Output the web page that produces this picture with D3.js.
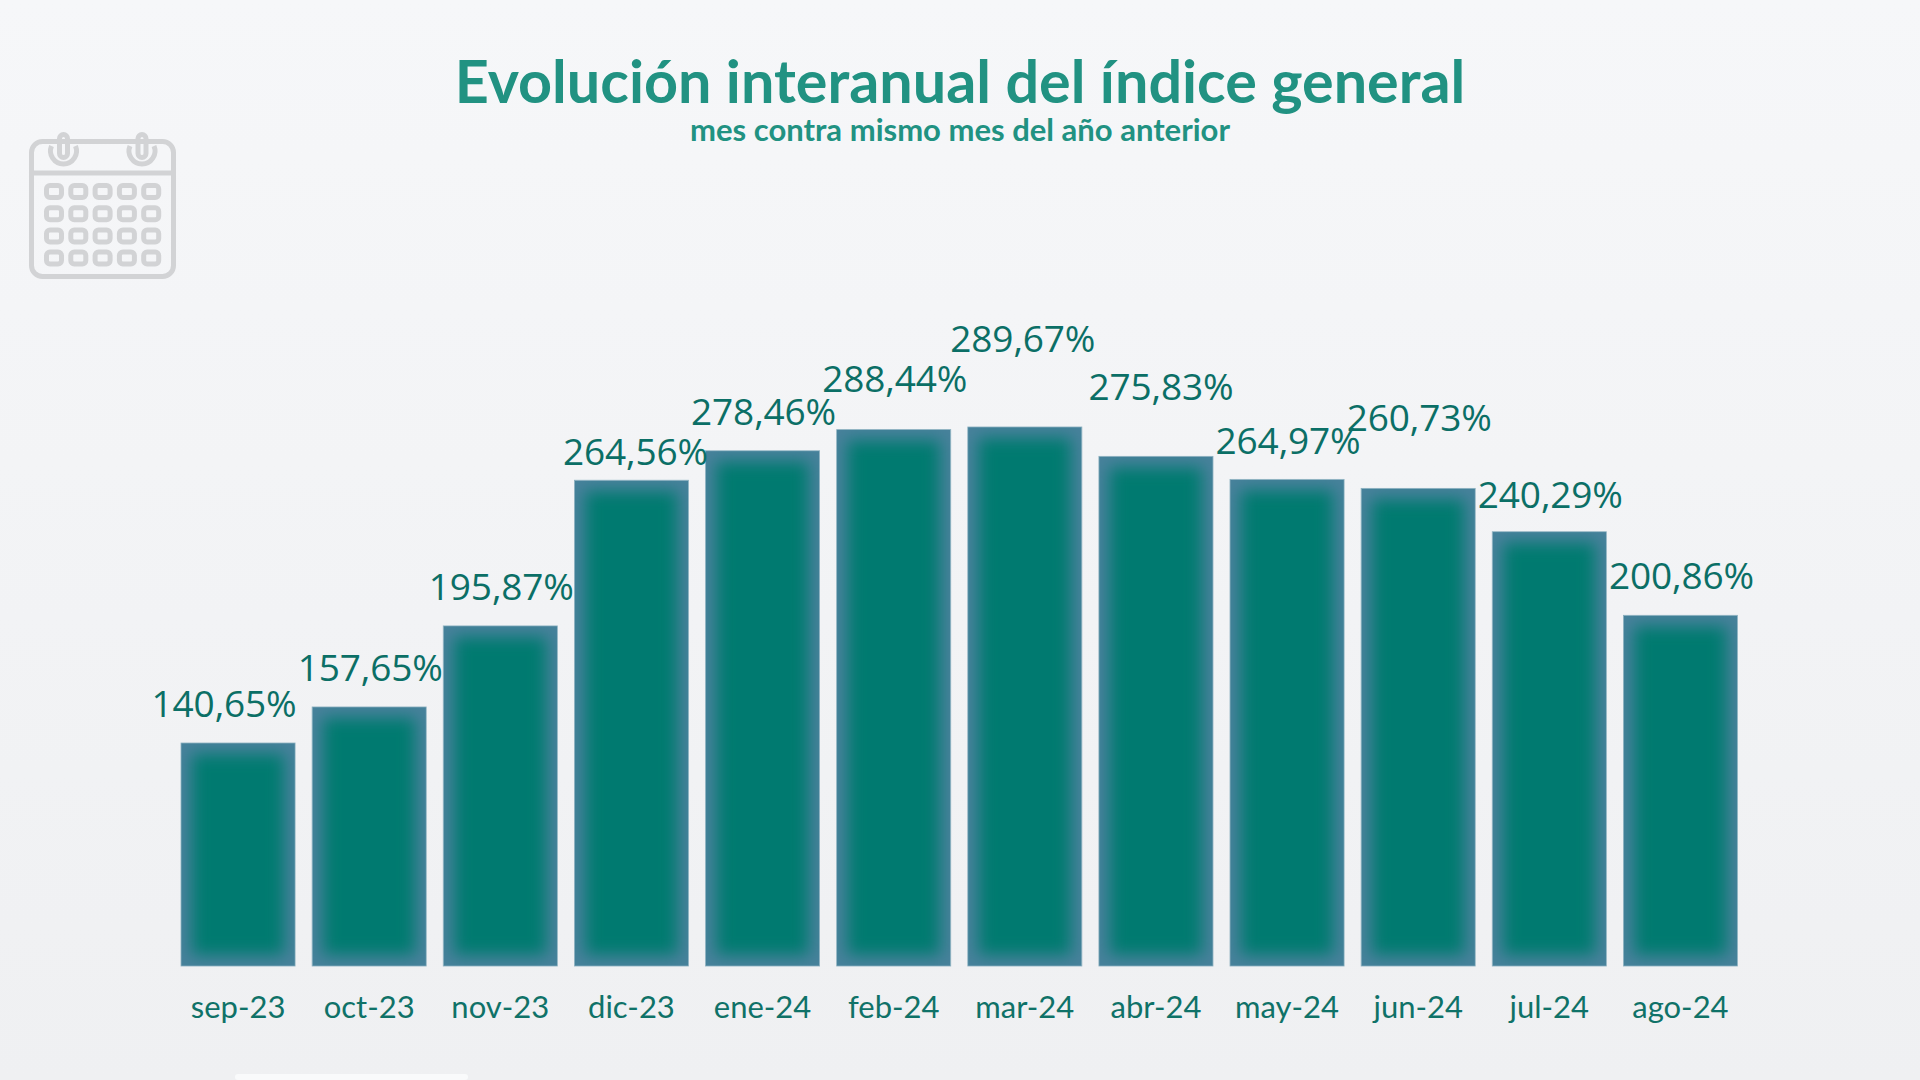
<!DOCTYPE html>
<html><head><meta charset="utf-8">
<script src="https://cdn.jsdelivr.net/npm/d3@7/dist/d3.min.js"></script>
<style>html,body{margin:0;padding:0;width:1920px;height:1080px;overflow:hidden;background:#f3f4f6}</style>
</head><body><svg id="c" width="1920" height="1080"></svg>
<script>
const categories=["sep-23","oct-23","nov-23","dic-23","ene-24","feb-24","mar-24","abr-24","may-24","jun-24","jul-24","ago-24"];
const values=[140.65,157.65,195.87,264.56,278.46,288.44,289.67,275.83,264.97,260.73,240.29,200.86];
const valueLabels=["140,65%","157,65%","195,87%","264,56%","278,46%","288,44%","289,67%","275,83%","264,97%","260,73%","240,29%","200,86%"];
const labelShiftX=[-14,1,1,4,1,1,-2,5,1,1,1,1];
const labelGap=[40,40,40,29,40,52,89,70,39,71,38,40];
const titleText="Evolución interanual del índice general";
const subtitleText="mes contra mismo mes del año anterior";

const svg=d3.select("#c");
const defs=svg.append("defs");
const bg=defs.append("linearGradient").attr("id","bg").attr("x1",0).attr("y1",0).attr("x2",0).attr("y2",1);
bg.append("stop").attr("offset",0).attr("stop-color","#f6f7f9");
bg.append("stop").attr("offset",1).attr("stop-color","#eff0f2");
defs.append("filter").attr("id","soft").attr("x","-30%").attr("y","-30%").attr("width","160%").attr("height","160%")
  .append("feGaussianBlur").attr("stdDeviation",8);
svg.append("rect").attr("width",1920).attr("height",1080).attr("fill","url(#bg)");
svg.append("rect").attr("x",235).attr("y",1074).attr("width",233).attr("height",6).attr("rx",3).attr("fill","#f9fafb");

svg.append("text").attr("x",960).attr("y",103).attr("text-anchor","middle")
  .attr("font-family","Lato").attr("font-weight",700).attr("font-size",59.3).attr("fill","#219282").text(titleText);
svg.append("text").attr("x",960).attr("y",140.5).attr("text-anchor","middle")
  .attr("font-family","Lato").attr("font-weight",700).attr("font-size",30).attr("fill","#219282").attr("textLength",540).attr("lengthAdjust","spacingAndGlyphs").text(subtitleText);

const x=d3.scaleBand().domain(categories).range([172.5,1746]).paddingInner(0.13).paddingOuter(0.065);
const y=d3.scaleLinear().domain([35.5,289.67]).range([966,427]);
const bars=svg.append("g");
categories.forEach((c,i)=>{
  const bx=x(c),bw=x.bandwidth(),by=y(values[i]),bh=966-by;
  const id="clip"+i;
  defs.append("clipPath").attr("id",id).append("rect").attr("x",bx).attr("y",by).attr("width",bw).attr("height",bh);
  const g=bars.append("g").attr("clip-path",`url(#${id})`);
  g.append("rect").attr("x",bx).attr("y",by).attr("width",bw).attr("height",bh).attr("fill","#47819b");
  g.append("rect").attr("x",bx+11).attr("y",by+11).attr("width",bw-22).attr("height",bh-22).attr("fill","#007a70").attr("filter","url(#soft)");
  bars.append("rect").attr("x",bx).attr("y",by).attr("width",bw).attr("height",bh).attr("fill","none").attr("stroke","#86adbd").attr("stroke-width",0.8);
  svg.append("text").attr("x",bx+bw/2+labelShiftX[i]).attr("y",by-labelGap[i]+14)
    .attr("text-anchor","middle").attr("font-family","'Open Sans'").attr("font-size",37).attr("letter-spacing",-0.15).attr("fill","#0b6f66").text(valueLabels[i]);
});
const ax=svg.append("g").attr("transform","translate(0,966)").call(d3.axisBottom(x).tickSize(0).tickPadding(30));
ax.select(".domain").remove();
ax.selectAll("text").attr("font-family","Lato").attr("font-size",31).attr("fill","#0f7268");

// calendar icon
const ic=svg.append("g").attr("fill","none").attr("stroke","#d2d3d5");
ic.append("rect").attr("x",31.5).attr("y",141.5).attr("width",142).attr("height",135).attr("rx",11).attr("stroke-width",5);
ic.append("line").attr("x1",32).attr("x2",173).attr("y1",173).attr("y2",173).attr("stroke-width",5);
[63.5,142].forEach(cx=>{
  ic.append("path").attr("d",`M${cx-12},146 A13,13 0 1,0 ${cx+12},146`).attr("stroke-width",5);
  ic.append("rect").attr("x",cx-4).attr("y",134.5).attr("width",8).attr("height",23).attr("rx",4).attr("stroke-width",5);
});
d3.range(4).forEach(r=>d3.range(5).forEach(k=>{
  ic.append("rect").attr("x",46.5+k*24.3).attr("y",185.5+r*22.2).attr("width",15).attr("height",12).attr("rx",3.5).attr("stroke-width",5);
}));
</script></body></html>
